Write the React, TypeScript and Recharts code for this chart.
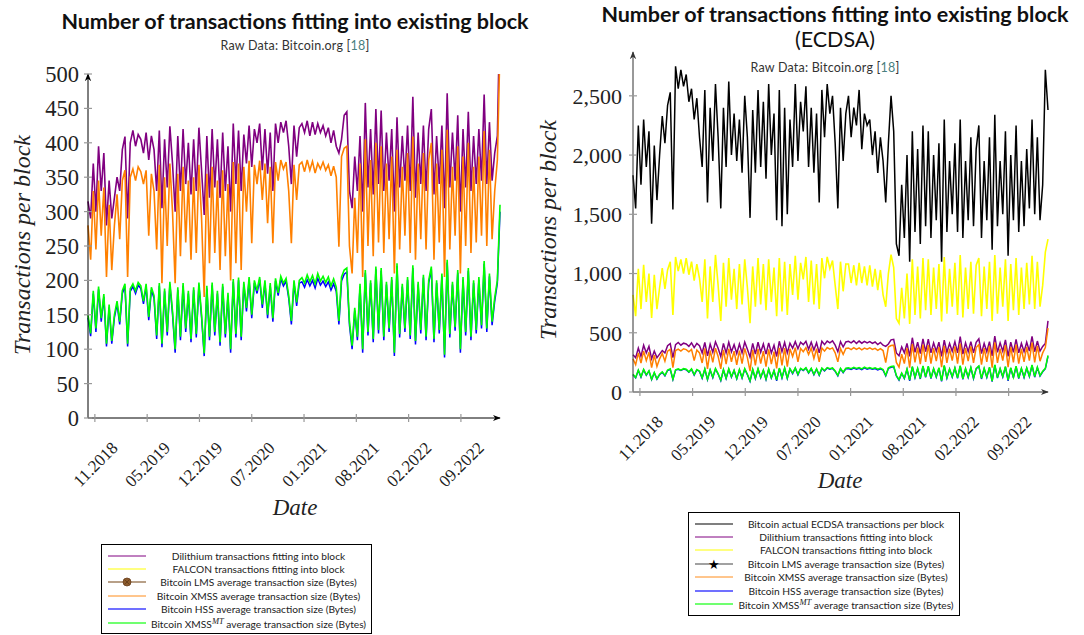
import React from "react";
import { LineChart, Line, XAxis, YAxis } from "recharts";

// date ticks (x = sample index, ~10 days per sample)
const tickLabels = ["11.2018", "05.2019", "12.2019", "07.2020", "01.2021", "08.2021", "02.2022", "09.2022"];
const tickIdx = [2.6, 22.4, 42.2, 62.0, 81.8, 101.6, 121.4, 141.2];

const ecdsa = [
  1830, 1550, 2250, 1750, 2300, 1900, 2200, 1420, 2080, 1620,
  2000, 2330, 2100, 2420, 2530, 1540, 2750, 2560, 2720, 2580,
  2680, 2450, 2560, 2300, 2480, 2150, 1900, 2550, 1600, 2400,
  1950, 2600, 2150, 1550, 2400, 1900, 2620, 2000, 2350, 1950,
  2300, 1850, 2500, 2150, 1470, 2380, 1850, 2550, 1900, 2450,
  1800, 2600, 2000, 2350, 1450, 2550, 1400, 2400, 1500, 2300,
  1900, 2600, 1950, 2450, 2200, 2580, 1900, 2400, 1850, 2350,
  1600, 2550, 2150, 2600, 2350, 2500, 2100, 1550, 2400, 1950,
  2350, 2500, 2150, 2400, 2250, 2550, 2050, 2350, 2250, 2300,
  2000, 2200, 1850, 2150, 1950, 1600, 2100, 2500, 2200, 1250,
  1150, 1750, 1300, 2000, 1100, 2200, 1350, 2050, 1250, 2250,
  1400, 2200, 1300, 2000, 1450, 2100, 1100, 2300, 1350, 1950,
  1500, 2100, 1350, 2300, 1300, 1950, 1450, 2150, 1400, 2050,
  2250, 1300, 1950, 1450, 2150, 1200, 2340, 1400, 1950, 1500,
  2200, 1150, 2000, 1450, 2250, 1350, 1950, 1400, 2050, 1550,
  2300, 1500, 2150, 1450, 1750, 2720, 2380,
];

const dilithium = [
  315, 290, 370, 300, 395, 330, 385, 280, 345, 290,
  320, 350, 330, 390, 409, 290, 400, 418, 395, 412,
  405, 385, 415, 375, 410, 390, 330, 418, 305, 405,
  335, 424, 370, 300, 410, 330, 420, 340, 400, 325,
  405, 330, 422, 360, 295, 410, 320, 420, 335, 405,
  320, 415, 330, 395, 300, 428, 340, 418, 330, 412,
  370, 425, 365, 420, 400, 428, 360, 420, 355, 415,
  330, 428, 400, 430, 415, 432, 395, 340, 425, 380,
  422, 428, 415, 432, 410, 430, 412, 428, 415, 425,
  410, 422, 400, 418, 395, 385, 405, 440, 445, 330,
  305, 380, 330, 410, 300, 458, 335, 420, 325, 449,
  340, 447, 330, 415, 345, 420, 300, 437, 335, 410,
  345, 425, 330, 467, 320, 415, 340, 425, 330, 420,
  449, 325, 410, 340, 425, 305, 472, 335, 415, 345,
  440, 300, 420, 335, 445, 330, 410, 340, 420, 345,
  470, 340, 430, 345, 385, 410, 600,
];

const falcon = [
  820, 640, 1040, 700, 1073, 760, 1000, 625, 990, 700,
  880, 1045, 870, 1030, 1100, 650, 1140, 1020, 1120, 1000,
  1130, 990, 1100, 940, 1080, 960, 760, 1120, 620, 1060,
  760, 1157, 900, 600, 1090, 720, 1130, 780, 1040, 700,
  1080, 740, 1120, 880, 580, 1060, 720, 1130, 740, 1080,
  690, 1120, 760, 1050, 640, 1130, 680, 1100, 650, 1080,
  820, 1150, 780, 1090, 950, 1140, 760, 1110, 740, 1080,
  700, 1130, 960, 1140, 1040, 1110, 900, 700, 1100, 850,
  1080, 1080, 920, 1070, 900, 1090, 920, 1060, 900, 1070,
  890, 1040, 860, 1030, 820, 720, 1000, 1160, 1050, 620,
  580, 880, 620, 1000, 575, 1120, 650, 1060, 620, 1130,
  690, 1120, 650, 1050, 700, 1080, 595, 1140, 660, 1040,
  720, 1090, 650, 1157, 630, 1050, 700, 1100, 660, 1070,
  1130, 640, 1060, 700, 1100, 600, 1157, 660, 1050, 720,
  1120, 600, 1080, 690, 1130, 650, 1050, 700, 1090, 740,
  1150, 700, 1100, 720, 900, 1180, 1290,
];

const xmss = [
  280, 230, 330, 245, 345, 265, 335, 205, 310, 215,
  280, 325, 260, 345, 360, 205, 350, 362, 345, 365,
  358, 340, 360, 265, 355, 330, 245, 368, 196, 350,
  250, 370, 300, 196, 355, 235, 365, 255, 345, 230,
  350, 240, 368, 290, 176, 355, 225, 365, 240, 345,
  215, 360, 235, 340, 200, 372, 225, 370, 215, 365,
  300, 374, 254, 368, 340, 374, 317, 370, 283, 365,
  254, 372, 345, 375, 362, 372, 330, 254, 368, 317,
  368, 372, 358, 375, 360, 373, 356, 370, 362, 372,
  360, 368, 352, 366, 350, 249, 380, 392, 395, 250,
  210, 320, 240, 370, 205, 405, 250, 375, 235, 400,
  255, 395, 240, 370, 260, 380, 210, 390, 245, 365,
  265, 385, 240, 409, 230, 370, 260, 385, 245, 375,
  400, 230, 370, 255, 390, 205, 419, 245, 365, 265,
  395, 210, 380, 250, 400, 240, 365, 255, 380, 265,
  417, 250, 390, 260, 330, 375, 540,
];

const hss = [
  146, 119, 181, 125, 187, 140, 176, 104, 161, 108,
  146, 166, 136, 181, 191, 104, 184, 191, 181, 193,
  188, 166, 191, 142, 186, 174, 115, 192, 103, 184,
  120, 194, 151, 95, 186, 113, 192, 125, 181, 110,
  186, 117, 193, 146, 90, 188, 113, 193, 120, 181,
  105, 191, 117, 178, 95, 198, 117, 200, 113, 194,
  155, 201, 145, 196, 181, 201, 160, 196, 145, 192,
  140, 199, 178, 202, 192, 199, 174, 136, 196, 163,
  196, 198, 190, 201, 192, 200, 189, 203, 193, 199,
  191, 198, 186, 195, 184, 136, 199, 209, 212, 135,
  100, 156, 113, 191, 95, 211, 120, 196, 110, 216,
  123, 214, 113, 194, 125, 201, 90, 221, 117, 191,
  125, 201, 115, 218, 107, 194, 123, 204, 113, 196,
  216, 110, 196, 123, 206, 88, 226, 117, 194, 127,
  211, 95, 201, 120, 214, 113, 196, 123, 201, 130,
  224, 125, 206, 135, 170, 196, 300,
];

const xmssmt = [
  150, 123, 185, 130, 191, 145, 180, 108, 165, 112,
  150, 170, 140, 185, 195, 108, 188, 195, 185, 197,
  192, 170, 195, 147, 190, 178, 120, 196, 108, 188,
  125, 198, 155, 100, 190, 118, 196, 130, 185, 115,
  190, 122, 197, 150, 94, 192, 118, 197, 125, 185,
  110, 195, 122, 182, 100, 202, 122, 204, 118, 198,
  160, 205, 150, 200, 185, 205, 165, 200, 150, 196,
  145, 203, 182, 206, 196, 203, 178, 141, 200, 168,
  200, 204, 196, 208, 198, 207, 195, 210, 199, 206,
  197, 205, 192, 202, 190, 141, 205, 215, 218, 140,
  105, 160, 118, 195, 100, 215, 125, 200, 115, 220,
  128, 218, 118, 198, 130, 205, 95, 225, 122, 195,
  130, 205, 120, 222, 112, 198, 128, 208, 118, 200,
  220, 115, 200, 128, 210, 92, 230, 122, 198, 132,
  215, 100, 205, 125, 218, 118, 200, 128, 205, 135,
  228, 130, 210, 140, 175, 200, 310,
];

const leftTicks = [0, 50, 100, 150, 200, 250, 300, 350, 400, 450, 500];
const rightTicks = [0, 500, 1000, 1500, 2000, 2500];

const rows = ecdsa.map((v, i) => ({
  i,
  ecdsa: v,
  dilithium: dilithium[i],
  falcon: falcon[i],
  xmss: xmss[i],
  hss: hss[i],
  xmssmt: xmssmt[i],
}));

const SERIF = "'Liberation Serif', 'DejaVu Serif', serif";
const SANS = "Lato, 'Open Sans', sans-serif";

const DateTick = (props: any) => {
  const { x, y, payload } = props;
  const label = tickLabels[tickIdx.indexOf(payload.value)];
  return (
    <text
      x={0}
      y={0}
      transform={`translate(${x + 24},${y + 21}) rotate(-45)`}
      textAnchor="end"
      fontFamily={SERIF}
      fontSize={17}
      fill="#222"
    >
      {label}
    </text>
  );
};

const LegendRow = ({ sample, children }: { sample: React.ReactNode; children: React.ReactNode }) => (
  <div style={{ display: "flex", alignItems: "center", height: 13.4 }}>
    <svg width={38} height={12} style={{ flex: "none", marginLeft: 6 }}>
      {sample}
    </svg>
    <div style={{ flex: 1, textAlign: "center", whiteSpace: "nowrap" }}>{children}</div>
  </div>
);

const lineSample = (color: string, w = 1.2) => <line x1={0} y1={6} x2={38} y2={6} stroke={color} strokeWidth={w} />;

const mt = (
  <>
    Bitcoin XMSS<sup style={{ fontFamily: SERIF, fontStyle: "italic", fontSize: 8.5, verticalAlign: 4 }}>MT</sup> average
    transaction size (Bytes)
  </>
);

const legendBox: React.CSSProperties = {
  position: "absolute",
  border: "1px solid #000",
  background: "#fff",
  fontFamily: SANS,
  fontSize: 10.2,
  color: "#222",
  paddingTop: 4,
  boxSizing: "border-box",
};

const yLabel = (cx: number, cy: number) => (
  <div
    style={{
      position: "absolute",
      left: cx - 150,
      top: cy - 15,
      width: 300,
      height: 30,
      lineHeight: "30px",
      textAlign: "center",
      transform: "rotate(-90deg)",
      fontFamily: SERIF,
      fontStyle: "italic",
      fontSize: 24,
      color: "#222",
    }}
  >
    Transactions per block
  </div>
);

const titleStyle: React.CSSProperties = {
  position: "absolute",
  textAlign: "center",
  fontFamily: SANS,
  fontWeight: 700,
  fontSize: 21.5,
  color: "#111",
  whiteSpace: "nowrap",
};

const subStyle: React.CSSProperties = {
  position: "absolute",
  textAlign: "center",
  fontFamily: SANS,
  fontSize: 12.5,
  letterSpacing: 0.2,
  color: "#333",
};

const App = () => {
  return (
    <div style={{ position: "absolute", left: 0, top: 0, width: 1084, height: 635, background: "#fff" }}>
      <svg width={0} height={0} style={{ position: "absolute" }}>
        <defs>
          <marker
            id="arrowK"
            viewBox="0 0 10 10"
            refX={9}
            refY={5}
            markerWidth={8}
            markerHeight={8}
            markerUnits="userSpaceOnUse"
            orient="auto-start-reverse"
          >
            <path d="M0,1 L10,5 L0,9 L3,5 z" fill="#000" />
          </marker>
          <marker
            id="arrowG"
            viewBox="0 0 10 10"
            refX={9}
            refY={5}
            markerWidth={8}
            markerHeight={8}
            markerUnits="userSpaceOnUse"
            orient="auto-start-reverse"
          >
            <path d="M0,1 L10,5 L0,9 L3,5 z" fill="#333" />
          </marker>
        </defs>
      </svg>

      {/* left panel */}
      <div style={{ ...titleStyle, left: 40, top: 8, width: 510 }}>Number of transactions fitting into existing block</div>
      <div style={{ ...subStyle, left: 40, top: 38, width: 510 }}>
        Raw Data: Bitcoin.org [<span style={{ color: "#4a8080" }}>18</span>]
      </div>
      {yLabel(22, 245)}
      <div style={{ position: "absolute", left: 245, top: 495, width: 100, textAlign: "center", fontFamily: SERIF, fontStyle: "italic", fontSize: 23, color: "#222" }}>
        Date
      </div>
      <div style={{ position: "absolute", left: 0, top: 0 }}>
        <LineChart width={540} height={635} data={rows} margin={{ top: 74, right: 40, bottom: 157, left: 0 }}>
          <XAxis
            dataKey="i"
            type="number"
            domain={[0, 156]}
            ticks={tickIdx}
            interval={0}
            height={60}
            tickSize={8}
            tickLine={{ stroke: "#999", strokeWidth: 1.2, transform: "translate(0,-4)" }}
            axisLine={{ stroke: "#000", strokeWidth: 1, markerEnd: "url(#arrowK)" }}
            tick={<DateTick />}
          />
          <YAxis
            type="number"
            domain={[0, 500]}
            allowDataOverflow
            ticks={leftTicks}
            interval={0}
            width={88}
            tickSize={8}
            tickMargin={1}
            tickLine={{ stroke: "#999", strokeWidth: 1.2, transform: "translate(4,0)" }}
            axisLine={{ stroke: "#000", strokeWidth: 1, markerStart: "url(#arrowK)" }}
            tick={{ fontFamily: SERIF, fontSize: 22.5, fill: "#222" }}
          />
          <Line type="linear" dataKey="dilithium" stroke="#800080" strokeWidth={1.6} dot={false} isAnimationActive={false} />
          <Line type="linear" dataKey="falcon" stroke="#ffff00" strokeWidth={1.6} dot={false} isAnimationActive={false} />
          <Line type="linear" dataKey="xmss" stroke="#ff8000" strokeWidth={1.6} dot={false} isAnimationActive={false} />
          <Line type="linear" dataKey="hss" stroke="#0000ff" strokeWidth={1.5} dot={false} isAnimationActive={false} />
          <Line type="linear" dataKey="xmssmt" stroke="#00ff00" strokeWidth={1.6} dot={false} isAnimationActive={false} />
        </LineChart>
      </div>
      <div style={{ ...legendBox, left: 101, top: 544, width: 271, height: 90 }}>
        <LegendRow sample={lineSample("#800080", 1)}>Dilithium transactions fitting into block</LegendRow>
        <LegendRow sample={lineSample("#ffff80", 2)}>FALCON transactions fitting into block</LegendRow>
        <LegendRow
          sample={
            <>
              {lineSample("#a08060", 1.5)}
              <circle cx={19} cy={6} r={4} fill="#8b5a2b" stroke="#6b4020" strokeWidth={0.8} />
              <path d="M16.5,3.5 L21.5,8.5 M21.5,3.5 L16.5,8.5" stroke="#5a3515" strokeWidth={0.7} />
            </>
          }
        >
          Bitcoin LMS average transaction size (Bytes)
        </LegendRow>
        <LegendRow sample={lineSample("#ff8c1a", 1)}>Bitcoin XMSS average transaction size (Bytes)</LegendRow>
        <LegendRow sample={lineSample("#7070ff", 2)}>Bitcoin HSS average transaction size (Bytes)</LegendRow>
        <LegendRow sample={lineSample("#70ff70", 2)}>{mt}</LegendRow>
      </div>

      {/* right panel */}
      <div style={{ ...titleStyle, left: 585, top: 1, width: 500 }}>Number of transactions fitting into existing block</div>
      <div style={{ ...titleStyle, fontWeight: 400, left: 585, top: 26, width: 500 }}>(ECDSA)</div>
      <div style={{ ...subStyle, left: 575, top: 60, width: 500 }}>
        Raw Data: Bitcoin.org [<span style={{ color: "#4a8080" }}>18</span>]
      </div>
      {yLabel(548, 230)}
      <div style={{ position: "absolute", left: 790, top: 468, width: 100, textAlign: "center", fontFamily: SERIF, fontStyle: "italic", fontSize: 23, color: "#222" }}>
        Date
      </div>
      <div style={{ position: "absolute", left: 540, top: 0 }}>
        <LineChart width={544} height={635} data={rows} margin={{ top: 52, right: 36, bottom: 183, left: 0 }}>
          <XAxis
            dataKey="i"
            type="number"
            domain={[0, 156]}
            ticks={tickIdx}
            interval={0}
            height={60}
            tickSize={8}
            tickLine={{ stroke: "#999", strokeWidth: 1.2, transform: "translate(0,-4)" }}
            axisLine={{ stroke: "#333", strokeWidth: 1, markerEnd: "url(#arrowG)" }}
            tick={<DateTick />}
          />
          <YAxis
            type="number"
            domain={[0, 2870]}
            allowDataOverflow
            ticks={rightTicks}
            interval={0}
            width={93}
            tickSize={8}
            tickMargin={3}
            tickFormatter={(v: number) => v.toLocaleString("en-US")}
            tickLine={{ stroke: "#999", strokeWidth: 1.2, transform: "translate(4,0)" }}
            axisLine={{ stroke: "#333", strokeWidth: 1, markerStart: "url(#arrowG)" }}
            tick={{ fontFamily: SERIF, fontSize: 22, fill: "#222" }}
          />
          <Line type="linear" dataKey="ecdsa" stroke="#000000" strokeWidth={1.5} dot={false} isAnimationActive={false} />
          <Line type="linear" dataKey="dilithium" stroke="#800080" strokeWidth={1.5} dot={false} isAnimationActive={false} />
          <Line type="linear" dataKey="falcon" stroke="#ffff00" strokeWidth={1.6} dot={false} isAnimationActive={false} />
          <Line type="linear" dataKey="xmss" stroke="#ff8000" strokeWidth={1.5} dot={false} isAnimationActive={false} />
          <Line type="linear" dataKey="hss" stroke="#0000ff" strokeWidth={1.4} dot={false} isAnimationActive={false} />
          <Line type="linear" dataKey="xmssmt" stroke="#00ff00" strokeWidth={1.5} dot={false} isAnimationActive={false} />
        </LineChart>
      </div>
      <div style={{ ...legendBox, left: 688, top: 512, width: 272, height: 104 }}>
        <LegendRow sample={lineSample("#555", 1.5)}>Bitcoin actual ECDSA transactions per block</LegendRow>
        <LegendRow sample={lineSample("#800080", 1)}>Dilithium transactions fitting into block</LegendRow>
        <LegendRow sample={lineSample("#ffff80", 2)}>FALCON transactions fitting into block</LegendRow>
        <LegendRow
          sample={
            <>
              {lineSample("#444", 1.2)}
              <text x={19} y={10.5} textAnchor="middle" fontSize={13} fontFamily={SERIF} fill="#000">
                ★
              </text>
            </>
          }
        >
          Bitcoin LMS average transaction size (Bytes)
        </LegendRow>
        <LegendRow sample={lineSample("#ff8c1a", 1)}>Bitcoin XMSS average transaction size (Bytes)</LegendRow>
        <LegendRow sample={lineSample("#7070ff", 2)}>Bitcoin HSS average transaction size (Bytes)</LegendRow>
        <LegendRow sample={lineSample("#70ff70", 2)}>{mt}</LegendRow>
      </div>
    </div>
  );
};

export default App;
